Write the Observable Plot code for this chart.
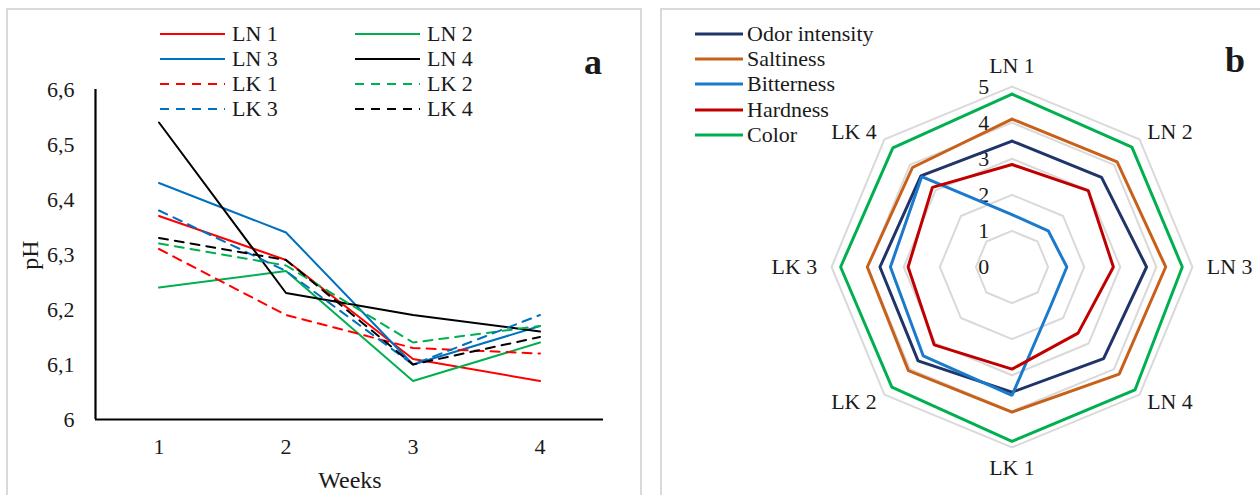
<!DOCTYPE html>
<html><head><meta charset="utf-8">
<script src="https://cdn.jsdelivr.net/npm/d3@7"></script>
<script src="https://cdn.jsdelivr.net/npm/@observablehq/plot@0.6"></script>
<style>
html,body{margin:0;padding:0}
body{width:1260px;height:495px;overflow:hidden;background:#fff;font-family:"Liberation Serif",serif;color:#1a1a1a;position:relative}
svg, svg text, .leg, .leg span, .ttl, .tag {font-family:"Liberation Serif",serif !important}
.panel{position:absolute;border:2px solid #d9d9d9;box-sizing:border-box}
.abs{position:absolute}
.leg{position:absolute;display:flex;align-items:center;font-size:22px;line-height:22px;white-space:nowrap;height:22px}
.leg svg{display:block}
.ttl{position:absolute;font-size:24px;line-height:24px;white-space:nowrap}
.tag{position:absolute;font-size:36px;font-weight:bold;line-height:36px}
</style></head><body>
<div class="panel" style="left:6px;top:8px;width:636px;height:520px"></div>
<div class="panel" style="left:660px;top:8px;width:640px;height:520px"></div>
<div id="chartA" class="abs" style="left:0;top:0"></div>
<div id="chartB" class="abs" style="left:763px;top:18px"></div>
<div id="legA"></div>
<div id="legB"></div>
<div class="ttl" style="left:30px;top:255px;transform:translate(-50%,-50%) rotate(-90deg)">pH</div>
<div class="ttl" style="left:350px;top:480px;transform:translate(-50%,-50%)">Weeks</div>
<div class="tag" style="left:584px;top:44px">a</div>
<div class="tag" style="left:1225px;top:42px">b</div>
<script>
// ---------- Panel a: pH over weeks ----------
const weeks = [1, 2, 3, 4];
const seriesNames = ["LN 1", "LN 2", "LN 3", "LN 4", "LK 1", "LK 2", "LK 3", "LK 4"];
const seriesColors = ["#ff0000", "#00b050", "#0070c0", "#000000", "#ff0000", "#00b050", "#0070c0", "#000000"];
const LN1 = [6.37, 6.29, 6.11, 6.07];
const LN2 = [6.24, 6.27, 6.07, 6.14];
const LN3 = [6.43, 6.34, 6.10, 6.17];
const LN4 = [6.54, 6.23, 6.19, 6.16];
const LK1 = [6.31, 6.19, 6.13, 6.12];
const LK2 = [6.32, 6.28, 6.14, 6.17];
const LK3 = [6.38, 6.27, 6.10, 6.19];
const LK4 = [6.33, 6.29, 6.10, 6.15];
const yTicks = [6, 6.1, 6.2, 6.3, 6.4, 6.5, 6.6];

// ---------- Panel b: sensory radar ----------
const categories = ["LN 1", "LN 2", "LN 3", "LN 4", "LK 1", "LK 2", "LK 3", "LK 4"];
const attrNames = ["Odor intensity", "Saltiness", "Bitterness", "Hardness", "Color"];
const attrColors = ["#1f3468", "#c8601a", "#1b7acc", "#c00000", "#00b050"];
const odorIntensity = [3.49, 3.51, 3.73, 3.59, 3.47, 3.68, 3.66, 3.57];
const saltiness     = [4.10, 4.12, 4.26, 4.20, 4.02, 4.06, 4.01, 3.90];
const bitterness    = [1.45, 1.42, 1.52, 1.52, 3.56, 3.48, 3.37, 3.54];
const hardness      = [2.84, 2.99, 2.81, 2.59, 2.83, 3.05, 2.88, 3.12];
const colorScore    = [4.79, 4.70, 4.72, 4.82, 4.83, 4.71, 4.75, 4.67];
const radarLevels = [0, 1, 2, 3, 4, 5];

const FONT = "Liberation Serif, serif";

// table for panel a
const seriesValues = [LN1, LN2, LN3, LN4, LK1, LK2, LK3, LK4];
const phRows = [];
seriesNames.forEach((name, i) => {
  weeks.forEach((w, j) => phRows.push({series: name, kind: name.slice(0, 2), week: w, ph: seriesValues[i][j]}));
});

const chartA = Plot.plot({
  width: 650, height: 495,
  marginLeft: 95, marginRight: 47, marginTop: 89, marginBottom: 76,
  style: {fontFamily: FONT, fontSize: "22px", color: "#1a1a1a", background: "transparent", overflow: "visible"},
  x: {type: "linear", domain: [0.5, 4.5]},
  y: {domain: [6, 6.6]},
  color: {domain: seriesNames, range: seriesColors},
  marks: [
    Plot.axisY({ticks: yTicks, tickSize: 0, tickPadding: 21, tickFormat: d => String(+d.toFixed(1)).replace(".", ","), label: null, fontSize: 22, fontFamily: FONT}),
    Plot.axisX({ticks: weeks, tickSize: 0, tickPadding: 19, tickFormat: d => String(d), label: null, fontSize: 22, fontFamily: FONT}),
    Plot.line(phRows.filter(d => d.kind === "LN"), {x: "week", y: "ph", z: "series", stroke: "series", strokeWidth: 2}),
    Plot.line(phRows.filter(d => d.kind === "LK"), {x: "week", y: "ph", z: "series", stroke: "series", strokeWidth: 2, strokeDasharray: "9,7"}),
    Plot.ruleX([0.5], {stroke: "#000", strokeWidth: 2.2}),
    Plot.ruleY([6], {stroke: "#000", strokeWidth: 2.2})
  ]
});
document.getElementById("chartA").append(chartA);

// legend a
const legA = document.getElementById("legA");
seriesNames.forEach((name, i) => {
  const col = i % 2, row = Math.floor(i / 2);
  const div = document.createElement("div");
  div.className = "leg";
  div.style.left = (col === 0 ? 160 : 355) + "px";
  div.style.top = (34 + row * 25 - 11) + "px";
  const dash = name.startsWith("LK") ? ' stroke-dasharray="9,7"' : "";
  div.innerHTML = `<svg width="65" height="4"><line x1="0" y1="2" x2="65" y2="2" stroke="${seriesColors[i]}" stroke-width="2.2"${dash}/></svg><span style="margin-left:7px">${name}</span>`;
  legA.append(div);
});

// radar
const n = categories.length;
const angle = i => (i / n) * 2 * Math.PI;
const attrValues = [odorIntensity, saltiness, bitterness, hardness, colorScore];
const gridRows = [];
radarLevels.filter(l => l > 0).forEach(l => {
  for (let i = 0; i <= n; i++) {
    const a = angle(i % n);
    gridRows.push({level: l, x: l * Math.sin(a), y: l * Math.cos(a)});
  }
});
const seriesRows = [];
attrNames.forEach((name, k) => {
  for (let i = 0; i <= n; i++) {
    const v = attrValues[k][i % n], a = angle(i % n);
    seriesRows.push({attr: name, x: v * Math.sin(a), y: v * Math.cos(a)});
  }
});
const labelRows = categories.map((c, i) => {
  const a = angle(i), s = Math.sin(a);
  const anchor = s > 0.1 ? "start" : s < -0.1 ? "end" : "middle";
  const r = anchor === "middle" ? 5.58 : (Math.abs(Math.cos(a)) < 0.1 ? 5.4 : 5.3);
  return {label: c, anchor, x: r * s, y: r * Math.cos(a)};
});
const R = 250 / 36.3;
const chartB = Plot.plot({
  width: 500, height: 500,
  margin: 0,
  style: {fontFamily: FONT, fontSize: "22px", color: "#1a1a1a", background: "transparent", overflow: "visible"},
  x: {domain: [-R, R], axis: null},
  y: {domain: [-R, R], axis: null},
  color: {domain: attrNames, range: attrColors},
  marks: [
    Plot.line(gridRows, {x: "x", y: "y", z: "level", stroke: "#d9d9d9", strokeWidth: 2}),
    Plot.text(radarLevels, {x: d => 0, y: d => d, text: d => String(d), dx: -23, textAnchor: "end", lineAnchor: "middle", fontSize: 22, fontFamily: FONT, fill: "#1a1a1a"}),
    Plot.line(seriesRows, {x: "x", y: "y", z: "attr", stroke: "attr", strokeWidth: 3, strokeLinejoin: "miter"}),
    ...["start", "middle", "end"].map(an =>
      Plot.text(labelRows.filter(d => d.anchor === an), {x: "x", y: "y", text: "label", textAnchor: an, lineAnchor: "middle", fontSize: 22, fontFamily: FONT, fill: "#1a1a1a"}))
  ]
});
document.getElementById("chartB").append(chartB);

// legend b
const legB = document.getElementById("legB");
attrNames.forEach((name, i) => {
  const div = document.createElement("div");
  div.className = "leg";
  div.style.left = "695px";
  div.style.top = (34 + i * 25.2 - 11) + "px";
  div.innerHTML = `<svg width="48" height="4"><line x1="0" y1="2" x2="48" y2="2" stroke="${attrColors[i]}" stroke-width="3"/></svg><span style="margin-left:4px">${name}</span>`;
  legB.append(div);
});
</script>
</body></html>
